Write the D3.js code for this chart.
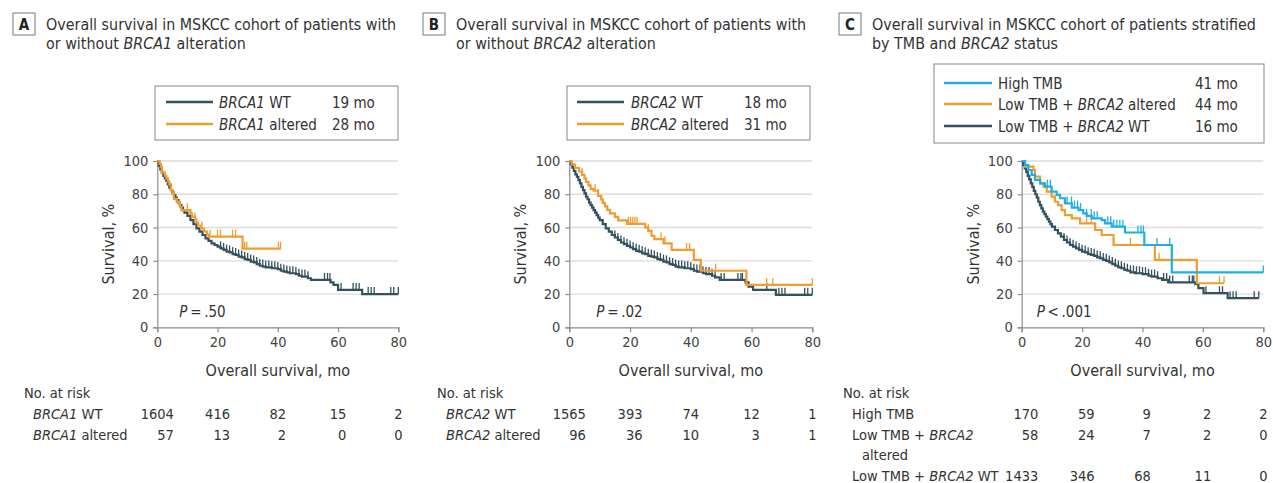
<!DOCTYPE html>
<html><head><meta charset="utf-8">
<script src="https://cdn.jsdelivr.net/npm/d3@7"></script>
<style>
body{margin:0;background:#fff;}
svg{display:block;font-family:"Liberation Sans Narrow","Arial Narrow","DejaVu Sans Condensed",sans-serif;}
</style></head><body>
<svg id="chart" width="1273" height="483"></svg>
<script>
// ---- axis ticks ----
const monthTicks = [0, 20, 40, 60, 80];
const survTicks = [0, 20, 40, 60, 80, 100];

// ---- Panel A: BRCA1 ----
const aWt = [[0,100],[0.5,97],[1,95],[1.5,93],[2,91],[2.5,89.5],[3,88],[3.5,86],[4,84],[4.5,82.5],[5,81],[5.5,79.5],[6,78],[6.5,76.5],[7,75],[7.5,73.5],[8,72],[8.5,70.5],[9,69],[10,67],[11,64.5],[12,62],[13,59.5],[14,57.5],[15,55.5],[16,53.5],[17,52],[18,50.5],[19,49.5],[20,48.5],[21,47.5],[22,46.5],[23,45.5],[24,45],[25,44],[26,43.5],[27,42.5],[28,42],[29,41],[30,40.5],[31,39.5],[32,39],[33,38],[34,37],[35,36.5],[36,36],[38,35.5],[40,35],[41,34],[42,33.5],[43,33],[44,32.5],[46,32],[47,31],[48,30.5],[50,29.5],[51,28.5],[57.5,27],[58.5,25.5],[60,22.5],[68,20],[80,20]];
const aWtCens = [21,22,23,24,25,26,27,28,29,30,31,32,33,34,35,36,37,38,39,40,41,42,43,44,45,46,47,48,49,50,55.5,56.5,57.3,61,65,66,67,70,71,72,77.5,78.5,80];
const aAlt = [[0,100],[0.8,98.2],[1.2,96.5],[1.5,93],[2.5,91.2],[3,89.5],[3.5,87.7],[4,86],[4.5,82.5],[5,80.7],[5.5,77.2],[6.5,75.4],[7.5,72.5],[8,70.5],[11,68.5],[11.5,66.6],[12.5,64.8],[13,63],[13.5,61.2],[14.5,59.4],[15.5,57.6],[16.5,55.8],[17,54.5],[28.3,47.3],[41,47.3]];
const aAltCens = [10,12.5,14.8,17.5,20,21,25,26,29,29.7,40.2,40.9];
const aRiskWt = [1604, 416, 82, 15, 2];
const aRiskAlt = [57, 13, 2, 0, 0];

// ---- Panel B: BRCA2 ----
const bWt = [[0,100],[0.5,98],[1,96],[1.5,94],[2,92],[2.5,90.5],[3,88.5],[3.5,86.5],[4,84.5],[4.5,82.5],[5,80.5],[5.5,78.5],[6,77],[6.5,75],[7,73.5],[7.5,72],[8,70.5],[8.5,69],[9,67.5],[9.5,66],[10,64.5],[11,62],[12,59.5],[13,57.5],[14,55.5],[15,54],[16,52.5],[17,51],[18,50],[19,49],[20,48],[21,47],[22,46],[23,45.5],[24,44.5],[25,44],[26,43],[27,42.5],[28,42],[29,41],[30,40.5],[31,39.5],[32,39],[33,38],[34,37.5],[35,36.5],[36,36],[38,35.5],[40,35],[41,34],[42,33.5],[44,32.5],[45,32],[47,31],[48,30],[49.5,28.5],[58,27],[59,24.5],[60.5,22.5],[68,19.5],[80,19.5]];
const bWtCens = [15,16,17,18,19,20,21,22,23,24,25,26,27,28,29,30,31,32,33,34,35,36,37,38,39,40,41,42,43,44,45,46,47,48,50,51,55.5,56.5,57,65,69,70,71,77.5,78.5,80];
const bAlt = [[0,100],[0.8,97.9],[1.9,95.8],[3.2,93.7],[4.2,91.6],[5,89.5],[5.5,87.4],[6.3,85.3],[7,83.2],[8,82.1],[9.5,79],[10.5,76.9],[11,74.8],[11.7,72.7],[12.5,70.6],[13.4,68.5],[15,66.4],[16.1,64.3],[19,62.2],[25,60.1],[26,58],[27.1,55],[28,53],[31,50.5],[33.7,46.5],[41,40.5],[43.3,34],[58.3,25.5],[80,25.5]];
const bAltCens = [4.2,8.5,9.5,19.5,20.2,20.9,21.6,22.3,26,30.2,31.5,38.6,39.6,48.2,65,67,80];
const bRiskWt = [1565, 393, 74, 12, 1];
const bRiskAlt = [96, 36, 10, 3, 1];

// ---- Panel C: TMB and BRCA2 ----
const cHigh = [[0,100],[1.1,97.6],[2.2,94.6],[3.3,91.6],[4.4,88.6],[6.1,86.6],[7.7,84.6],[9.9,81.6],[11.6,79.6],[12.7,77.6],[14.3,74.5],[16.6,72],[18.8,70.5],[20.4,68.5],[21.5,67],[23.2,65.5],[26.5,64.5],[27.6,62.5],[29.8,60.5],[34.2,57],[40.6,49.5],[49.7,33],[80,33]];
const cHighCens = [8.5,9.5,15,16.5,17.5,18.5,19.5,21.5,23,24,25,28.5,29.5,30.5,31.5,32.5,33.5,38.5,39.5,40.3,44.8,49,80];
const cLowAlt = [[0,100],[1.1,96.6],[3.9,94.6],[4.4,90.6],[6.1,86.6],[7.2,84.6],[8.3,81.6],[9.9,78.6],[11,75.5],[12.1,73.5],[13.2,70.5],[14.3,67.5],[16.6,65.5],[19.3,62.5],[24.3,58.5],[26.5,55.5],[30.4,49.5],[44.1,40.5],[58,26.5],[67,26.5]];
const cLowAltCens = [21.5,23,30.5,36,45.5,65.5,67];
const cLowWt = [[0,100],[0.5,97.5],[1,95.5],[1.5,93.5],[2,91],[2.5,89],[3,86.5],[3.5,84.5],[4,82],[4.5,80],[5,78],[5.5,75.5],[6,73.5],[6.5,71.5],[7,69.5],[7.5,68],[8,66.5],[8.5,65],[9,63.5],[9.5,62],[10,60.5],[11,58.5],[12,56.5],[13,54.5],[14,52.5],[15,51],[16,49.5],[17,48.5],[18,47.5],[19,46.5],[20,45.5],[21,45],[22,44],[23,43.5],[24,43],[25,42],[26,41.5],[27,40.5],[28,40],[29,39],[30,38],[31,37],[32,36],[33,35.5],[34,34.5],[35,34],[36,33],[37.5,32.5],[40,32],[42,31],[43,30.5],[45,29.5],[46.5,28.5],[48.5,27],[57.5,26],[58.5,23.5],[60.2,20.5],[68.2,17.5],[78.5,17.5]];
const cLowWtCens = [14,15,16,17,18,19,20,21,22,23,24,25,26,27,28,29,30,31,32,33,34,35,36,37,38,39,40,41,42,43,44,45,47,48,49,50,55.5,56.5,57,61,65.5,66.5,69,70,71,77,78.5];
const cRiskHigh = [170, 59, 9, 2, 2];
const cRiskLowAlt = [58, 24, 7, 2, 0];
const cRiskLowWt = [1433, 346, 68, 11, 0];

// ---- colours ----
const colWt = "#34515d";
const colAlt = "#f09c31";
const colHigh = "#1eaee8";

// ---- type sizes ----
const fsTitle = 15.9, fsBody = 14.5, fsTick = 14.5, fsAxis = 16;

const svg = d3.select("#chart");

// Text with *italic* segments
function rich(sel, str) {
  str.split("*").forEach((seg, i) => {
    if (seg === "") return;
    sel.append("tspan").text(seg).attr("font-style", i % 2 ? "italic" : null);
  });
  return sel;
}

function survAt(curve, t) {
  let s = curve[0][1];
  for (const [tt, v] of curve) { if (tt <= t) s = v; else break; }
  return s;
}

const panels = [
  {
    letter: "A", titleX: 46, left: 157.3, right: 398.3,
    title: ["Overall survival in MSKCC cohort of patients with", "or without *BRCA1* alteration"],
    legend: {x: 155, y: 86, w: 243, h: 54, lineX1: 166, lineX2: 213, textX: 219, valX: 332, rows: [102, 124]},
    series: [
      {name: "*BRCA1* WT", med: "19 mo", color: colWt, curve: aWt, cens: aWtCens},
      {name: "*BRCA1* altered", med: "28 mo", color: colAlt, curve: aAlt, cens: aAltCens}
    ],
    drawOrder: [0, 1],
    p: "= .50", pX: 22,
    riskX: 24, risk: [
      {label: ["*BRCA1* WT"], vals: aRiskWt},
      {label: ["*BRCA1* altered"], vals: aRiskAlt}
    ]
  },
  {
    letter: "B", titleX: 456, left: 569.3, right: 812.3,
    title: ["Overall survival in MSKCC cohort of patients with", "or without *BRCA2* alteration"],
    legend: {x: 567, y: 86, w: 243, h: 54, lineX1: 577, lineX2: 624, textX: 631, valX: 744, rows: [102, 124]},
    series: [
      {name: "*BRCA2* WT", med: "18 mo", color: colWt, curve: bWt, cens: bWtCens},
      {name: "*BRCA2* altered", med: "31 mo", color: colAlt, curve: bAlt, cens: bAltCens}
    ],
    drawOrder: [0, 1],
    p: "= .02", pX: 27,
    riskX: 437, risk: [
      {label: ["*BRCA2* WT"], vals: bRiskWt},
      {label: ["*BRCA2* altered"], vals: bRiskAlt}
    ]
  },
  {
    letter: "C", titleX: 872, left: 1021.7, right: 1263.3,
    title: ["Overall survival in MSKCC cohort of patients stratified", "by TMB and *BRCA2* status"],
    legend: {x: 934, y: 64, w: 330, h: 79, lineX1: 944, lineX2: 992, textX: 998, valX: 1195, rows: [83, 104, 126]},
    series: [
      {name: "High TMB", med: "41 mo", color: colHigh, curve: cHigh, cens: cHighCens},
      {name: "Low TMB + *BRCA2* altered", med: "44 mo", color: colAlt, curve: cLowAlt, cens: cLowAltCens},
      {name: "Low TMB + *BRCA2* WT", med: "16 mo", color: colWt, curve: cLowWt, cens: cLowWtCens}
    ],
    drawOrder: [2, 1, 0],
    p: "< .001", pX: 15,
    riskX: 843, risk: [
      {label: ["High TMB"], vals: cRiskHigh},
      {label: ["Low TMB + *BRCA2*", "altered"], vals: cRiskLowAlt},
      {label: ["Low TMB + *BRCA2* WT"], vals: cRiskLowWt}
    ]
  }
];

const plotTop = 161, plotBottom = 327.3;

panels.forEach(p => {
  const g = svg.append("g");
  const x = d3.scaleLinear().domain([0, 80]).range([p.left, p.right]);
  const y = d3.scaleLinear().domain([0, 100]).range([plotBottom, plotTop]);

  // Panel letter box and title
  g.append("rect").attr("x", p.titleX - 33).attr("y", 13).attr("width", 22).attr("height", 22)
    .attr("fill", "#fff").attr("stroke", "#777").attr("stroke-width", 1);
  g.append("text").attr("x", p.titleX - 22).attr("y", 29.5).attr("text-anchor", "middle")
    .attr("font-size", 15).attr("font-weight", "bold").attr("fill", "#222").text(p.letter);
  p.title.forEach((line, i) => {
    rich(g.append("text").attr("x", p.titleX).attr("y", 30 + i * 19)
      .attr("font-size", fsTitle).attr("fill", "#333"), line);
  });

  // Legend
  const L = p.legend;
  g.append("rect").attr("x", L.x).attr("y", L.y).attr("width", L.w).attr("height", L.h)
    .attr("fill", "#fff").attr("stroke", "#888").attr("stroke-width", 1);
  p.series.forEach((s, i) => {
    const ly = L.rows[i];
    g.append("line").attr("x1", L.lineX1).attr("x2", L.lineX2).attr("y1", ly).attr("y2", ly)
      .attr("stroke", s.color).attr("stroke-width", 2.5);
    rich(g.append("text").attr("x", L.textX).attr("y", ly + 5.5).attr("font-size", fsBody + 0.5).attr("fill", "#333"), s.name);
    g.append("text").attr("x", L.valX).attr("y", ly + 5.5).attr("font-size", fsBody + 0.5).attr("fill", "#333").text(s.med);
  });

  // Gridlines
  g.selectAll("line.grid").data(survTicks.filter(d => d > 0)).join("line")
    .attr("x1", x(0)).attr("x2", x(80)).attr("y1", d => y(d)).attr("y2", d => y(d))
    .attr("stroke", "#dcdcdc").attr("stroke-width", 1.3);

  // Axes
  const ya = g.append("g").attr("transform", `translate(${x(0)},0)`)
    .call(d3.axisLeft(y).tickValues(survTicks).tickSize(4).tickPadding(5));
  const xa = g.append("g").attr("transform", `translate(0,${plotBottom})`)
    .call(d3.axisBottom(x).tickValues(monthTicks).tickSize(5).tickPadding(4));
  [ya, xa].forEach(a => {
    a.attr("font-family", null).attr("font-size", null);
    a.select(".domain").attr("stroke", "#8c8c8c").attr("stroke-width", 1.2);
    a.selectAll(".tick line").attr("stroke", "#8c8c8c").attr("stroke-width", 1.2);
    a.selectAll(".tick text").attr("font-size", fsTick).attr("fill", "#444");
  });

  g.append("text").attr("transform", `translate(${x(0) - 43},${(plotTop + plotBottom) / 2}) rotate(-90)`)
    .attr("text-anchor", "middle").attr("font-size", fsAxis).attr("fill", "#333").text("Survival, %");
  g.append("text").attr("x", (x(0) + x(80)) / 2).attr("y", 376).attr("text-anchor", "middle")
    .attr("font-size", fsAxis).attr("fill", "#333").text("Overall survival, mo");

  // Curves with censor marks
  const line = d3.line().x(d => x(d[0])).y(d => y(d[1])).curve(d3.curveStepAfter);
  p.drawOrder.forEach(i => {
    const s = p.series[i];
    g.append("path").datum(s.curve).attr("d", line).attr("fill", "none")
      .attr("stroke", s.color).attr("stroke-width", 2.2);
    g.selectAll(null).data(s.cens).join("line")
      .attr("x1", t => x(t)).attr("x2", t => x(t))
      .attr("y1", t => y(survAt(s.curve, t))).attr("y2", t => y(survAt(s.curve, t)) - 7)
      .attr("stroke", s.color).attr("stroke-width", 1.3);
  });

  // P value
  const pt = g.append("text").attr("x", x(0) + p.pX).attr("y", 317).attr("font-size", 15).attr("fill", "#333");
  pt.append("tspan").attr("font-style", "italic").text("P");
  pt.append("tspan").text("\u2009" + p.p.replace(" ", "\u2009"));

  // Number at risk
  g.append("text").attr("x", p.riskX).attr("y", 398).attr("font-size", fsBody).attr("fill", "#333").text("No. at risk");
  let rowY = 419;
  const rowYs = [];
  p.risk.forEach(r => {
    rowYs.push(rowY);
    r.label.forEach((lab, k) => {
      rich(g.append("text").attr("x", p.riskX + 9 + (k > 0 ? 10 : 0)).attr("y", rowY + k * 20)
        .attr("font-size", fsBody).attr("fill", "#333"), lab);
    });
    rowY += 21 + (r.label.length - 1) * 20;
  });
  // columns: right-aligned, centred on each tick by the widest entry
  monthTicks.forEach((m, c) => {
    const texts = p.risk.map((r, ri) => g.append("text").attr("y", rowYs[ri])
      .attr("font-size", fsBody).attr("fill", "#333").attr("text-anchor", "end").text(r.vals[c]));
    const maxW = d3.max(texts, t => t.node().getComputedTextLength());
    texts.forEach(t => t.attr("x", x(m) + maxW / 2));
  });
});
</script>
</body></html>
